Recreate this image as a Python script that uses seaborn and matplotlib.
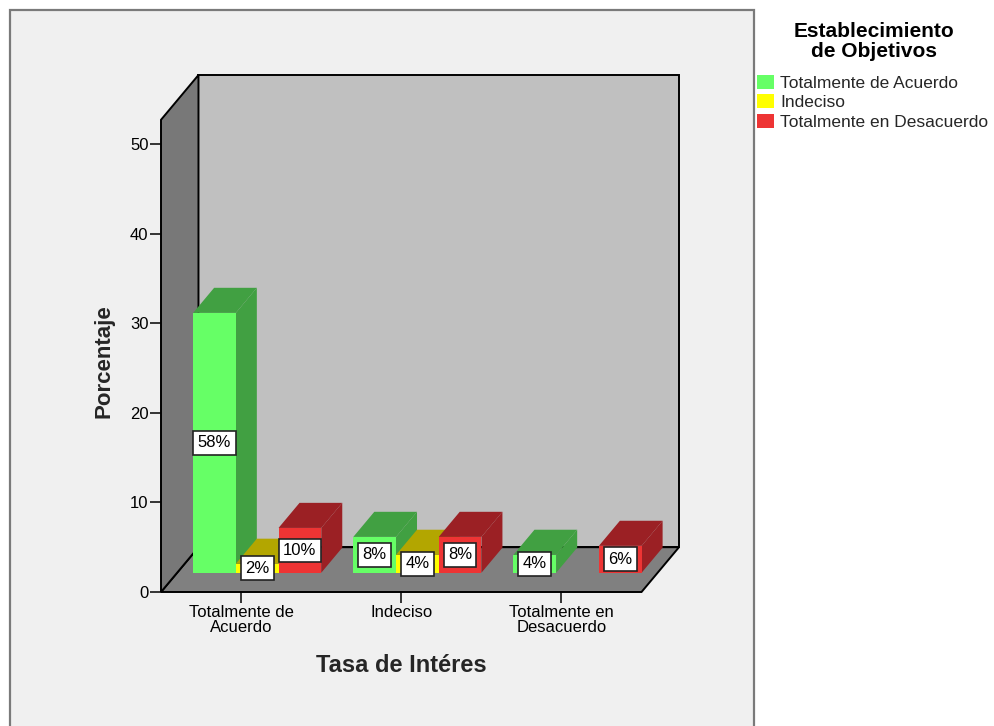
import matplotlib
matplotlib.use("Agg")
import matplotlib.pyplot as plt
from matplotlib.patches import Polygon, Rectangle, Patch
from matplotlib.colors import to_rgba
import numpy as np
import pandas as pd
import seaborn as sns

# ---- datos -------------------------------------------------------------
categorias = ["Totalmente de\nAcuerdo", "Indeciso", "Totalmente en\nDesacuerdo"]
niveles = ["Totalmente de Acuerdo", "Indeciso", "Totalmente en Desacuerdo"]

# porcentaje de respuestas (n = 50) por categoría de "Tasa de Intéres"
pct_acuerdo = [58, 8, 4]
pct_indeciso = [2, 4, None]
pct_desacuerdo = [10, 8, 6]
n_total = 50

yticks = [0, 10, 20, 30, 40, 50]

frente = {"Totalmente de Acuerdo": "#66FF66",
          "Indeciso": "#FFFF00",
          "Totalmente en Desacuerdo": "#EE3434"}
sombra = {"Totalmente de Acuerdo": "#41A042",
          "Indeciso": "#B3A600",
          "Totalmente en Desacuerdo": "#9B2024"}

filas = []
for nivel, valores in zip(niveles, [pct_acuerdo, pct_indeciso, pct_desacuerdo]):
    for cat, v in zip(categorias, valores):
        if v is None:
            continue
        filas.append({"tasa": cat, "objetivo": nivel, "pct": v,
                      "altura": v * n_total / 100})
df = pd.DataFrame(filas)

# ---- estilo ------------------------------------------------------------
sns.set_style("white")
plt.rcParams["font.family"] = ["Liberation Sans", "DejaVu Sans"]

fig = plt.figure(figsize=(9.95, 7.26), dpi=100, facecolor="white")
fig.add_artist(Rectangle((10 / 995, -0.05), 744 / 995, 1.05 - 10.5 / 726,
                         transform=fig.transFigure, facecolor="#F0F0F0",
                         edgecolor="#7A7A7A", linewidth=1.6, zorder=-1))

ax = fig.add_axes([161 / 995, 134 / 726, 518 / 995, 517 / 726])
ax.patch.set_visible(False)

# profundidad de la caja 3D (en unidades de datos)
DX, DY = 0.234, 5.0
YTOP = 52.7
F0, FD = 0.43, 0.56   # inicio y fondo de las barras dentro de la caja

sns.barplot(data=df, x="tasa", y="altura", hue="objetivo", order=categorias,
            hue_order=niveles, palette=frente, width=0.8, saturation=1,
            errorbar=None, legend=False, linewidth=0, ax=ax)

x0, x1 = -0.5, 2.5
ax.set_xlim(x0, x1 + DX)
ax.set_ylim(0, YTOP + DY)

pared_kw = dict(closed=True, edgecolor="black", linewidth=1.4,
                joinstyle="miter", clip_on=False)
ax.add_patch(Polygon([(x0 + DX, DY), (x1 + DX, DY), (x1 + DX, YTOP + DY),
                      (x0 + DX, YTOP + DY)], facecolor="#C0C0C0",
                     zorder=0.2, **pared_kw))
ax.add_patch(Polygon([(x0, 0), (x1, 0), (x1 + DX, DY), (x0 + DX, DY)],
                     facecolor="#808080", zorder=0.3, **pared_kw))
ax.add_patch(Polygon([(x0, 0), (x0 + DX, DY), (x0 + DX, YTOP + DY),
                      (x0, YTOP)], facecolor="#787878", zorder=0.4,
                     **pared_kw))

# barras: cara frontal de seaborn + caras lateral y superior
barras = []
for bar in list(ax.patches):
    if not isinstance(bar, matplotlib.patches.Rectangle):
        continue
    fc = bar.get_facecolor()
    nivel = next((n for n in niveles
                  if np.allclose(fc[:3], to_rgba(frente[n])[:3], atol=0.01)), None)
    if nivel is None:
        continue
    barras.append((bar, nivel))
barras.sort(key=lambda b: b[0].get_x())

bdx, bdy = FD * DX, FD * DY
for i, (bar, nivel) in enumerate(barras):
    w = bar.get_width()
    h = bar.get_height()
    idx = int(round(bar.get_x() + w / 2))
    x = bar.get_x() + F0 * DX
    y = F0 * DY
    bar.set_x(x)
    bar.set_y(y)
    z = 2 + i * 0.01
    bar.set_zorder(z + 0.005)
    bar.set_clip_on(False)
    ax.add_patch(Polygon([(x + w, y), (x + w + bdx, y + bdy),
                          (x + w + bdx, y + h + bdy), (x + w, y + h)],
                         closed=True, facecolor=sombra[nivel], edgecolor="none",
                         zorder=z, clip_on=False))
    ax.add_patch(Polygon([(x, y + h), (x + bdx, y + h + bdy),
                          (x + w + bdx, y + h + bdy), (x + w, y + h)],
                         closed=True, facecolor=sombra[nivel], edgecolor="none",
                         zorder=z + 0.001, clip_on=False))
    pct = df.loc[(df["tasa"] == categorias[idx]) & (df["objetivo"] == nivel),
                 "pct"].iloc[0]
    ax.text(x + w / 2, y + h / 2, f"{pct:g}%", ha="center", va="center",
            fontsize=12, color="black", zorder=10,
            bbox=dict(boxstyle="square,pad=0.26", facecolor="white",
                      edgecolor="#222222", linewidth=1.2))

# ejes
for s in ax.spines.values():
    s.set_visible(False)
ax.set_yticks(yticks)
ax.set_xticks(range(len(categorias)))
ax.set_xticklabels(categorias)
ax.tick_params(axis="both", direction="out", length=8, width=1.1,
               color="black", labelsize=12, labelcolor="black",
               bottom=True, left=True)
ax.tick_params(axis="y", pad=1)
ax.tick_params(axis="x", pad=1.5)
for t in ax.get_xticklabels():
    t.set_linespacing(1.0)

ax.set_xlabel("Tasa de Intéres", fontsize=17, fontweight="bold", va="center")
ax.xaxis.set_label_coords((401 - 161) / 518, (592 - 666) / 517)
ax.set_ylabel("Porcentaje", fontsize=16, fontweight="bold", va="center")
ax.yaxis.set_label_coords((104 - 161) / 518, (592 - 361) / 517)

# leyenda
fig.text(874 / 995, 1 - 22 / 726, "Establecimiento\nde Objetivos",
         ha="center", va="top", multialignment="center", fontsize=15,
         fontweight="bold", linespacing=1.08, color="black")
handles = [Patch(facecolor=frente[n], edgecolor="none") for n in niveles]
leg = fig.legend(handles, niveles, loc="upper left",
                 bbox_to_anchor=(757 / 995, 1 - 75 / 726), frameon=False,
                 fontsize=12.5, handlelength=1.0, handleheight=0.85,
                 handletextpad=0.35, labelspacing=0.2, borderpad=0,
                 borderaxespad=0)

fig.savefig("out.png", dpi=100)
